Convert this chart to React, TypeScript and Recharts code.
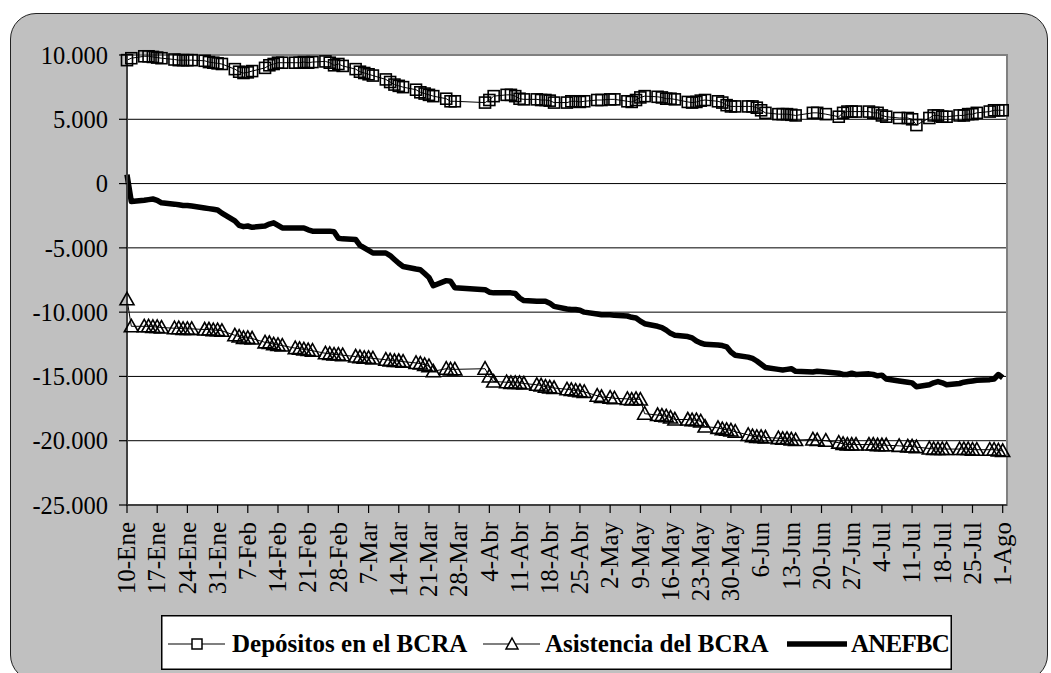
import React from "react";
import {
  LineChart,
  Line,
  XAxis,
  YAxis,
  CartesianGrid,
  Legend,
  ReferenceArea,
} from "recharts";

// business days, as day offsets from 10-Ene (one row per week)
const days = [
  0, 1,
  4, 5, 6, 7, 8,
  11, 12, 13, 14, 15,
  18, 19, 20, 21, 22,
  25, 26, 27, 28, 29,
  32, 33, 34, 35, 36,
  39, 40, 41, 42, 43,
  46, 47, 48, 49, 50,
  53, 54, 55, 56, 57,
  60, 61, 62, 63, 64,
  67, 68, 69, 70, 71,
  74, 75, 76,
  83, 84, 85,
  88, 89, 90, 91, 92,
  95, 96, 97, 98, 99,
  102, 103, 104, 105, 106,
  109, 110, 112, 113,
  116, 117, 118, 119, 120,
  123, 124, 125, 126, 127,
  130, 131, 132, 133, 134,
  137, 138, 139, 140, 141,
  144, 145, 146, 147, 148,
  151, 152, 153, 154, 155,
  159, 160, 162,
  165, 166, 167, 168, 169,
  172, 173, 174, 175, 176,
  179, 181, 182, 183,
  186, 187, 188, 189, 190,
  193, 194, 195, 196, 197,
  200, 201, 202, 203,
];

const depositos = [
  9600, 9750,
  9900, 9900, 9850, 9800, 9750,
  9650, 9600, 9600, 9600, 9600,
  9550, 9450, 9400, 9350, 9300,
  8900, 8700, 8600, 8650, 8750,
  9000, 9200, 9300, 9400, 9400,
  9400, 9400, 9450, 9400, 9450,
  9500, 9400, 9200, 9300, 9150,
  8900, 8700, 8600, 8500, 8400,
  8100, 7900, 7700, 7600, 7500,
  7300, 7100, 7000, 6900, 6800,
  6600, 6400, 6400,
  6300, 6500, 6800,
  6900, 6900, 6800, 6600, 6550,
  6550, 6500, 6500, 6450, 6300,
  6300, 6400, 6400, 6350, 6400,
  6500, 6500, 6550, 6550,
  6400, 6350, 6500, 6700, 6800,
  6750, 6700, 6600, 6600, 6550,
  6350, 6300, 6350, 6450, 6500,
  6400, 6300, 6100, 6000, 6000,
  6000, 6000, 5900, 5700, 5500,
  5400, 5400, 5400, 5350, 5300,
  5500, 5500, 5400,
  5200, 5500, 5600, 5600, 5600,
  5600, 5500, 5500, 5300, 5200,
  5100, 5100, 5000, 4550,
  5100, 5300, 5300, 5200, 5200,
  5300, 5300, 5400, 5400, 5500,
  5600, 5700, 5700, 5700,
];

const asistencia = [
  -9000, -11100,
  -11100, -11100, -11150, -11150, -11200,
  -11250, -11250, -11300, -11300, -11300,
  -11350, -11350, -11400, -11400, -11450,
  -11800, -11900, -12000, -12000, -12050,
  -12350, -12400, -12500, -12550, -12600,
  -12800, -12850, -12900, -12950, -13000,
  -13200, -13250, -13300, -13300, -13350,
  -13450, -13500, -13550, -13550, -13600,
  -13700, -13750, -13800, -13800, -13850,
  -13950, -14000, -14100, -14200, -14600,
  -14400, -14450, -14450,
  -14400, -15000, -15400,
  -15450, -15500, -15500, -15500, -15550,
  -15650, -15700, -15800, -15850, -15900,
  -16000, -16050, -16100, -16150, -16200,
  -16500, -16600, -16650, -16700,
  -16750, -16800, -16750, -16800, -17900,
  -18000, -18050, -18100, -18200, -18350,
  -18350, -18400, -18400, -18500, -18900,
  -19000, -19100, -19150, -19200, -19300,
  -19550, -19650, -19700, -19700, -19750,
  -19800, -19850, -19850, -19900, -19950,
  -19900, -19950, -20000,
  -20150, -20250, -20300, -20300, -20300,
  -20300, -20300, -20350, -20350, -20350,
  -20400, -20450, -20450, -20500,
  -20600, -20650, -20650, -20650, -20650,
  -20650, -20650, -20650, -20700, -20700,
  -20700, -20700, -20750, -20800,
];

const anefbc = [
  700, -1400,
  -1300, -1250, -1200, -1300, -1500,
  -1600, -1650, -1700, -1700, -1750,
  -1900, -1950, -2000, -2050, -2300,
  -2900, -3250, -3350, -3300, -3400,
  -3300, -3150, -3050, -3250, -3450,
  -3450, -3450, -3450, -3600, -3700,
  -3700, -3700, -3750, -4250, -4300,
  -4350, -4800, -5000, -5200, -5400,
  -5400, -5600, -5900, -6200, -6450,
  -6650, -6700, -7000, -7300, -7950,
  -7550, -7600, -8100,
  -8250, -8450, -8500,
  -8500, -8500, -8550, -8900, -9100,
  -9150, -9150, -9150, -9300, -9550,
  -9750, -9800, -9800, -9850, -10000,
  -10150, -10200, -10200, -10250,
  -10300, -10400, -10450, -10700, -10900,
  -11100, -11200, -11400, -11650, -11800,
  -11900, -12000, -12250, -12400, -12500,
  -12550, -12600, -12700, -13100, -13350,
  -13500, -13600, -13800, -14050, -14300,
  -14450, -14500, -14450, -14400, -14600,
  -14650, -14600, -14650,
  -14750, -14850, -14850, -14750, -14850,
  -14800, -14850, -14950, -14900, -15200,
  -15350, -15450, -15500, -15800,
  -15650, -15500, -15400, -15500, -15650,
  -15550, -15450, -15400, -15350, -15300,
  -15250, -15200, -14850, -15100,
];

const tickDays = [
  0, 7, 14, 21, 28, 35, 42, 49, 56, 63, 70, 77, 84, 91, 98, 105, 112, 119,
  126, 133, 140, 147, 154, 161, 168, 175, 182, 189, 196, 203,
];
const tickLabels = [
  "10-Ene", "17-Ene", "24-Ene", "31-Ene", "7-Feb", "14-Feb", "21-Feb",
  "28-Feb", "7-Mar", "14-Mar", "21-Mar", "28-Mar", "4-Abr", "11-Abr",
  "18-Abr", "25-Abr", "2-May", "9-May", "16-May", "23-May", "30-May",
  "6-Jun", "13-Jun", "20-Jun", "27-Jun", "4-Jul", "11-Jul", "18-Jul",
  "25-Jul", "1-Ago",
];
const yTicks = [10000, 5000, 0, -5000, -10000, -15000, -20000, -25000];

const data = days.map((d, i) => ({
  d,
  dep: depositos[i],
  asi: asistencia[i],
  ane: anefbc[i],
}));

const FONT = "'Liberation Serif', 'Times New Roman', serif";

const fmt = (v: number) => {
  const s = Math.abs(v)
    .toString()
    .replace(/\B(?=(\d{3})+(?!\d))/g, ".");
  return v < 0 ? "-" + s : s;
};

function DateTick({ x, y, payload }: any) {
  const label = tickLabels[tickDays.indexOf(payload.value)];
  return (
    <g transform={`translate(${x},${y})`}>
      <text
        transform="rotate(-90)"
        x={-7}
        y={0}
        dy="0.33em"
        textAnchor="end"
        fontFamily={FONT}
        fontSize={25}
        fill="#000"
      >
        {label}
      </text>
    </g>
  );
}

function SquareDot(props: any) {
  const { cx, cy, index } = props;
  if (cx == null || cy == null) return <g key={`s${index}`} />;
  return (
    <rect
      key={`s${index}`}
      x={cx - 5.5}
      y={cy - 5.5}
      width={11}
      height={11}
      fill="none"
      stroke="#000"
      strokeWidth={1.6}
    />
  );
}

function TriangleDot(props: any) {
  const { cx, cy, index } = props;
  if (cx == null || cy == null) return <g key={`t${index}`} />;
  return (
    <path
      key={`t${index}`}
      d={`M${cx},${cy - 7}L${cx + 7},${cy + 5.5}L${cx - 7},${cy + 5.5}Z`}
      fill="none"
      stroke="#000"
      strokeWidth={1.6}
    />
  );
}

function LegendBox() {
  const ty = 37;
  const ly = 29;
  return (
    <svg width={791} height={55} style={{ display: "block" }}>
      <rect x={0.75} y={0.75} width={789.5} height={53.5} fill="#fff" stroke="#000" strokeWidth={1.5} />
      <line x1={7} y1={ly} x2={64} y2={ly} stroke="#000" strokeWidth={1.2} />
      <rect x={31} y={ly - 5} width={10} height={10} fill="#fff" stroke="#000" strokeWidth={1.5} />
      <text x={71} y={ty} fontFamily={FONT} fontSize={25} fontWeight="bold" fill="#000">
        Depósitos en el BCRA
      </text>
      <line x1={322} y1={ly} x2={379} y2={ly} stroke="#000" strokeWidth={1.2} />
      <path
        d={`M351,${ly - 6}L357,${ly + 5}L345,${ly + 5}Z`}
        fill="#fff"
        stroke="#000"
        strokeWidth={1.5}
      />
      <text x={384} y={ty} fontFamily={FONT} fontSize={25} fontWeight="bold" fill="#000">
        Asistencia del BCRA
      </text>
      <line x1={626} y1={ly} x2={686} y2={ly} stroke="#000" strokeWidth={5.5} />
      <text x={690} y={ty} fontFamily={FONT} fontSize={25} fontWeight="bold" fill="#000" letterSpacing={-0.8}>
        ANEFBC
      </text>
    </svg>
  );
}

export default function App() {
  return (
    <div
      style={{
        position: "absolute",
        left: 0,
        top: 0,
        width: 1051,
        height: 673,
        overflow: "hidden",
        background: "#fff",
      }}
    >
      <div
        style={{
          position: "absolute",
          left: 10,
          top: 13,
          width: 1036,
          height: 666,
          background: "#c0c0c0",
          border: "1.5px solid #222",
          borderRadius: 26,
        }}
      />
      <div style={{ position: "absolute", left: 0, top: 0 }}>
        <LineChart
          width={1051}
          height={673}
          data={data}
          margin={{ top: 55, right: 44, bottom: 58, left: 0 }}
        >
          <CartesianGrid vertical={false} stroke="#000" strokeWidth={1} fill="#fff" fillOpacity={1} />
          <ReferenceArea
            x1={0}
            x2={204}
            y1={-25000}
            y2={10000}
            fill="none"
            stroke="#808080"
            strokeWidth={2}
          />
          <XAxis
            dataKey="d"
            type="number"
            domain={[0, 204]}
            ticks={tickDays}
            interval={0}
            tick={<DateTick />}
            tickSize={8}
            height={110}
            axisLine={{ stroke: "#000", strokeWidth: 1.2 }}
            tickLine={{ stroke: "#000", strokeWidth: 1.2 }}
          />
          <YAxis
            type="number"
            domain={[-25000, 10000]}
            ticks={yTicks}
            interval={0}
            width={127}
            tickSize={8}
            tickMargin={11}
            tickFormatter={fmt}
            tick={{ fontFamily: FONT, fontSize: 24.5, fill: "#000" }}
            axisLine={{ stroke: "#404040", strokeWidth: 2 }}
            tickLine={{ stroke: "#000", strokeWidth: 1.2 }}
          />
          <Legend
            layout="vertical"
            align="center"
            verticalAlign="middle"
            content={() => <LegendBox />}
            wrapperStyle={{ left: 161, top: 615, width: 791, height: 55, bottom: "auto", right: "auto" }}
          />
          <Line
            dataKey="dep"
            name="Depósitos en el BCRA"
            type="linear"
            stroke="#000"
            strokeWidth={1}
            dot={SquareDot}
            activeDot={false}
            isAnimationActive={false}
          />
          <Line
            dataKey="asi"
            name="Asistencia del BCRA"
            type="linear"
            stroke="#000"
            strokeWidth={1}
            dot={TriangleDot}
            activeDot={false}
            isAnimationActive={false}
          />
          <Line
            dataKey="ane"
            name="ANEFBC"
            type="linear"
            stroke="#000"
            strokeWidth={5.5}
            strokeLinejoin="round"
            dot={false}
            activeDot={false}
            isAnimationActive={false}
          />
        </LineChart>
      </div>
    </div>
  );
}
